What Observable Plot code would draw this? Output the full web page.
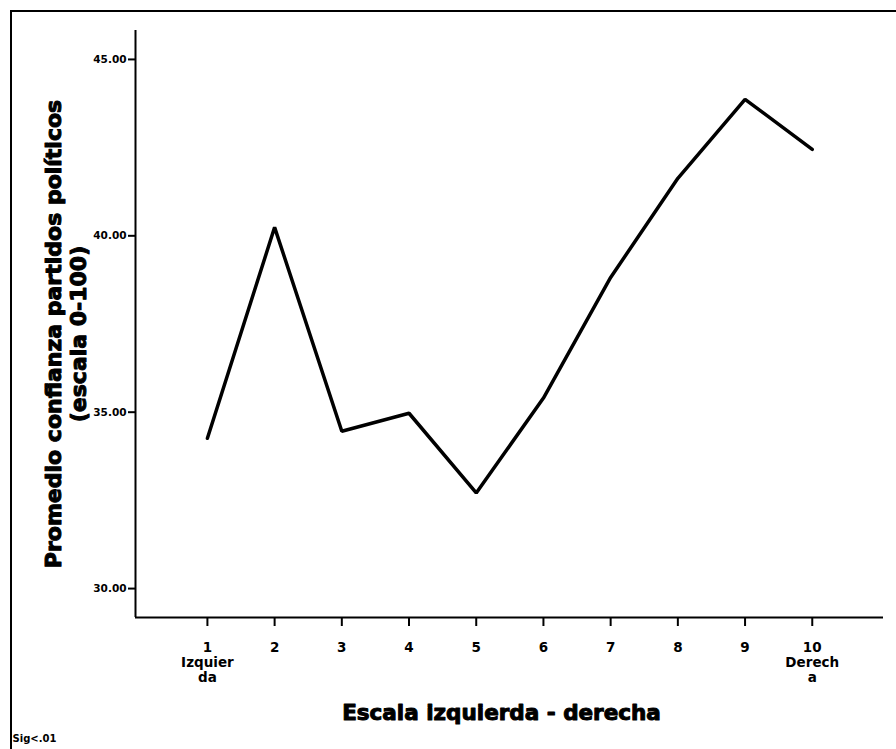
<!DOCTYPE html>
<html>
<head>
<meta charset="utf-8">
<script src="https://cdn.jsdelivr.net/npm/d3@7"></script>
<script src="https://cdn.jsdelivr.net/npm/@observablehq/plot@0.6"></script>
<style>
  html, body { margin: 0; padding: 0; background: #fff; }
  #wrap { position: relative; width: 896px; height: 749px; overflow: hidden; }
  #frame { position: absolute; left: 10px; top: 10px; width: 900px; height: 760px;
           border-left: 2.5px solid #000; border-top: 2.5px solid #000; box-sizing: border-box; }
  #chart { position: absolute; left: 0; top: 0; }
</style>
</head>
<body>
<div id="wrap"><div id="frame"></div><div id="chart"></div></div>
<script>
const categories = [1, 2, 3, 4, 5, 6, 7, 8, 9, 10];
const meanConfidence = [34.26, 40.24, 34.46, 34.97, 32.71, 35.40, 38.82, 41.63, 43.87, 42.45];
const xTickLabels = ["1\nIzquier\nda", "2", "3", "4", "5", "6", "7", "8", "9", "10\nDerech\na"];
const yTicks = [30, 35, 40, 45];
const xDomain = [-0.07, 11.06];
const yDomain = [29.18, 45.82];
const xTitle = "Escala izquierda - derecha";
const yTitle = "Promedio confianza partidos políticos\n(escala 0-100)";
const note = "Sig<.01";

const data = categories.map((c, i) => ({x: c, y: meanConfidence[i]}));
const labelOf = new Map(categories.map((c, i) => [c, xTickLabels[i]]));
const font = "'DejaVu Sans', sans-serif";

const chart = Plot.plot({
  width: 896,
  height: 749,
  marginLeft: 135,
  marginRight: 13,
  marginTop: 30,
  marginBottom: 132,
  style: {fontFamily: font, background: "transparent", overflow: "visible"},
  x: {domain: xDomain, axis: null},
  y: {domain: yDomain, axis: null},
  marks: [
    Plot.ruleX([xDomain[0]], {stroke: "#000", strokeWidth: 2}),
    Plot.ruleY([yDomain[0]], {stroke: "#000", strokeWidth: 2}),
    Plot.axisY(yTicks, {
      tickSize: 7, tickPadding: 2, tickFormat: d3.format(".2f"),
      fontSize: 10.5, fontWeight: "bold", fill: "#000", stroke: "#000", strokeWidth: 2, label: null
    }),
    Plot.axisX(categories, {
      tickSize: 9, tickPadding: 15, tickFormat: d => labelOf.get(d),
      fontSize: 13.5, fontWeight: "bold", lineHeight: 1.11, fill: "#000",
      stroke: "#000", strokeWidth: 2, label: null
    }),
    Plot.line(data, {x: "x", y: "y", stroke: "#000", strokeWidth: 3.5, strokeLinejoin: "miter"}),
    Plot.text([xTitle], {
      frameAnchor: "bottom", dx: -8, dy: 102, fontSize: 21.5, fontWeight: "bold",
      fill: "#000", stroke: "#000", strokeWidth: 1
    }),
    Plot.text([yTitle], {
      frameAnchor: "left", textAnchor: "middle", lineAnchor: "middle", rotate: -90,
      dx: -70, dy: 10, lineHeight: 1.14,
      fontSize: 22, fontWeight: "bold", fill: "#000", stroke: "#000", strokeWidth: 1
    }),
    Plot.text([note], {
      frameAnchor: "bottom-left", textAnchor: "start", dx: -123, dy: 124,
      fontSize: 10, fontWeight: "bold", fill: "#000"
    })
  ]
});
document.getElementById("chart").appendChild(chart);
</script>
</body>
</html>
